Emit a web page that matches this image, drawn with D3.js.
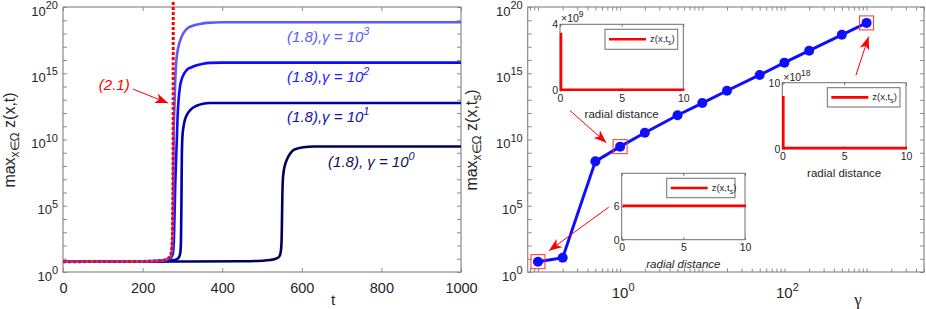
<!DOCTYPE html>
<html><head><meta charset="utf-8">
<script src="https://cdn.jsdelivr.net/npm/d3@7"></script>
<style>
body{margin:0;background:#fff}
svg{display:block}
text{font-family:"Liberation Sans",Arial,Helvetica,sans-serif;fill:#262626}
</style>
</head><body>
<svg id="c" width="926" height="309"></svg>
<script>
// ---------------- DATA ----------------
const tTicks = [0, 200, 400, 600, 800, 1000];
const yDecades = d3.range(0, 21);          // log10 tick positions (every decade)
const yLabelDecades = [0, 5, 10, 15, 20];

// Left panel curves: time t and log10(max z)
const t_g1000  = [0,150,220,250,262,268,272,274,276,277,278,280,282,285,290,296,302,315,328,345,361,400,1000];
const lz_g1000 = [0.78,0.79,0.82,0.88,0.96,1.08,1.3,1.7,3.5,7,10.5,12.5,14.5,16,17,17.6,18,18.45,18.6,18.72,18.8,18.85,18.85];

const t_g100  = [0,150,220,250,265,272,276,278,280,282,284,286,288,291,294,300,311,323,336,352,369,400,1000];
const lz_g100 = [0.78,0.79,0.81,0.86,0.95,1.1,1.4,2,4,6.5,8.3,10,11.8,13.2,14,14.7,15.25,15.45,15.6,15.72,15.78,15.8,15.8];

const t_g10  = [0,200,260,280,288,292,295,296.5,297.5,298.5,300,303,306.5,312,319,336,352,369,400,1000];
const lz_g10 = [0.78,0.79,0.83,0.9,1.0,1.15,1.5,2.5,5,8.5,10.2,11,11.5,11.9,12.2,12.55,12.7,12.75,12.75,12.75];

const t_g1  = [0,300,450,500,520,537,544,547,549,550,551,552.5,555,558,562,570,579,590,604,630,1000];
const lz_g1 = [0.78,0.79,0.81,0.85,0.9,1.03,1.2,1.5,2.2,3.5,5.5,7,7.7,8.1,8.45,8.9,9.2,9.33,9.42,9.47,9.47];

const t_21  = [0,200,240,255,263,268,272,274,275.5,276.5,277];
const lz_21 = [0.78,0.8,0.84,0.9,1.0,1.15,1.5,2.2,4,8,21];

// Right panel: gamma vs log10(max z at t_s)
const gammas   = [0.1,0.2,0.5,1,2,5,10,20,50,100,200,500,1000];
const lz_gamma = [0.78,1.08,8.35,9.46,10.51,11.83,12.75,13.68,14.87,15.8,16.7,17.9,18.8];
const highlighted = [0, 3, 12];   // indices boxed in red
const gammaLabelDecades = [0, 2];

// Inset profiles (radial distance, z)
const rA = [0, 0, 10], zA = [3.45, 0, 0];      // gamma = 1, units 1e9
const rB = [0, 0, 10], zB = [7.9, 0, 0];       // gamma = 1000, units 1e18
const rC = [0, 10],    zC = [6, 6];            // gamma = 0.1
const insetXTicks = [0, 5, 10];

// ---------------- DRAW ----------------
const svg = d3.select("#c");
const P = x => Math.pow(10, x);
const AX = "#8a8a8a";
const fmt = d3.format("d");

// Left panel
const L = {x0: 63, x1: 461, y0: 7, y1: 272};
const xL = d3.scaleLinear([0, 1000], [L.x0, L.x1]);
const yLog = d3.scaleLog([1, 1e20], [L.y1, L.y0]);

function frame(g, b, color, w) {
  g.append("rect").attr("x", b.x0).attr("y", b.y0)
    .attr("width", b.x1 - b.x0).attr("height", b.y1 - b.y0)
    .attr("fill", "none").attr("stroke", color).attr("stroke-width", w);
}
function styleAxis(g) {
  g.select(".domain").remove();
  g.selectAll(".tick line").attr("stroke", AX).attr("stroke-width", 1);
}

const gL = svg.append("g");
frame(gL, L, AX, 1.2);
gL.append("g").attr("transform", `translate(0,${L.y1})`)
  .call(d3.axisBottom(xL).tickValues(tTicks).tickFormat(fmt).tickSizeInner(-4).tickSizeOuter(0).tickPadding(11))
  .call(styleAxis)
  .call(g => g.selectAll("text").attr("font-size", 14.5).attr("fill", "#262626")
     .attr("font-family", '"Liberation Sans",Arial,sans-serif'));
gL.append("g").attr("transform", `translate(0,${L.y0})`)
  .call(d3.axisTop(xL).tickValues(tTicks).tickSizeInner(-4).tickSizeOuter(0).tickFormat(""))
  .call(styleAxis);
gL.append("g").attr("transform", `translate(${L.x0},0)`)
  .call(d3.axisLeft(yLog).tickValues(yDecades.map(P)).tickSizeInner(-4).tickSizeOuter(0).tickFormat(""))
  .call(styleAxis);
gL.append("g").attr("transform", `translate(${L.x1},0)`)
  .call(d3.axisRight(yLog).tickValues(yDecades.map(P)).tickSizeInner(-4).tickSizeOuter(0).tickFormat(""))
  .call(styleAxis);

function powLabel(g, x, y, exp, anchor, size, esize, rise) {
  const t = g.append("text").attr("x", x).attr("y", y).attr("text-anchor", anchor).attr("font-size", size);
  t.append("tspan").text("10");
  t.append("tspan").attr("dy", -rise).attr("font-size", esize).text(exp);
  return t;
}
yLabelDecades.forEach(d => powLabel(gL, L.x0 - 5, yLog(P(d)) + 8.5, d, "end", 13, 11, 6.5));

// axis labels
gL.append("text").attr("x", 333).attr("y", 305).attr("text-anchor", "middle").attr("font-size", 15).text("t");

function ylab(g, x, y, sub) {
  const t = g.append("text").attr("transform", `translate(${x},${y}) rotate(-90)`)
    .attr("text-anchor", "middle").attr("font-size", 16);
  t.append("tspan").text("max");
  t.append("tspan").attr("dy", 4).attr("font-size", 12).text("x∈Ω");
  t.append("tspan").attr("dy", -4).text(" z(x,t");
  if (sub) { t.append("tspan").attr("dy", 4).attr("font-size", 12).text("s"); t.append("tspan").attr("dy", -4).text(")"); }
  else t.append("tspan").text(")");
}
ylab(gL, 14.5, 140, false);

// curves
const lineL = d3.line().x(d => xL(d[0])).y(d => yLog(P(d[1]))).curve(d3.curveMonotoneX);
const series = [
  {t: t_g1,    lz: lz_g1,    color: "#00005e"},
  {t: t_g10,   lz: lz_g10,   color: "#0000a8"},
  {t: t_g100,  lz: lz_g100,  color: "#0a0aff"},
  {t: t_g1000, lz: lz_g1000, color: "#5a5aff"}
];
const clipId = "clipL";
svg.append("clipPath").attr("id", clipId).append("rect")
  .attr("x", L.x0).attr("y", L.y0).attr("width", L.x1 - L.x0).attr("height", L.y1 - L.y0);
series.forEach(s => {
  gL.append("path").datum(d3.zip(s.t, s.lz)).attr("d", lineL)
    .attr("fill", "none").attr("stroke", s.color).attr("stroke-width", 2.6)
    .attr("clip-path", `url(#${clipId})`);
});
gL.append("path").datum(d3.zip(t_21, lz_21)).attr("d", lineL)
  .attr("fill", "none").attr("stroke", "#ff0000").attr("stroke-width", 3)
  .attr("stroke-dasharray", "3,2");

// curve labels
function curveLabel(g, t, lz, pre, exp, color) {
  const tx = g.append("text").attr("x", xL(t)).attr("y", yLog(P(lz)))
    .attr("font-size", 15).attr("font-style", "italic").style("fill", color);
  tx.append("tspan").text(pre);
  tx.append("tspan").attr("dy", -7).attr("font-size", 11).text(exp);
}
curveLabel(gL, 563, 17.36, "(1.8),γ = 10", "3", "#5a5aff");
curveLabel(gL, 563, 14.34, "(1.8),γ = 10", "2", "#1a1aff");
curveLabel(gL, 563, 11.32, "(1.8),γ = 10", "1", "#1010b0");
curveLabel(gL, 666, 7.92,  "(1.8), γ = 10", "0", "#10105e");
gL.append("text").attr("x", xL(90)).attr("y", yLog(P(13.7))).attr("font-size", 15)
  .attr("font-style", "italic").style("fill", "#ff0000").text("(2.1)");

// arrow marker
const defs = svg.append("defs");
defs.append("marker").attr("id", "ah").attr("markerUnits", "userSpaceOnUse")
  .attr("markerWidth", 14).attr("markerHeight", 10).attr("refX", 13).attr("refY", 5)
  .attr("orient", "auto")
  .append("path").attr("d", "M0,0 L13,5 L0,10 L3.5,5 Z").attr("fill", "#ff0000");
function arrow(g, x1, y1, x2, y2) {
  g.append("line").attr("x1", x1).attr("y1", y1).attr("x2", x2).attr("y2", y2)
    .attr("stroke", "#ff0000").attr("stroke-width", 1).attr("marker-end", "url(#ah)");
}
arrow(gL, xL(176), yLog(P(13.8)), xL(264), yLog(P(12.75)));

// Right panel
const R = {x0: 527.7, x1: 924, y0: 7, y1: 272};
const xR = d3.scaleLog([0.075, 5000], [R.x0, R.x1]);
const yR = d3.scaleLog([1, 1e20], [R.y1, R.y0]);
const gR = svg.append("g");
frame(gR, R, AX, 1.2);
const gTicks = [];
[-2, -1, 0, 1, 2, 3].forEach(e => d3.range(1, 10).forEach(m => {
  const v = m * P(e); if (v >= 0.075 && v <= 5000) gTicks.push(v);
}));
gR.append("g").attr("transform", `translate(0,${R.y1})`)
  .call(d3.axisBottom(xR).tickValues(gTicks).tickSizeInner(-3.5).tickSizeOuter(0).tickFormat(""))
  .call(styleAxis);
gR.append("g").attr("transform", `translate(0,${R.y0})`)
  .call(d3.axisTop(xR).tickValues(gTicks).tickSizeInner(-3.5).tickSizeOuter(0).tickFormat(""))
  .call(styleAxis);
gR.append("g").attr("transform", `translate(${R.x0},0)`)
  .call(d3.axisLeft(yR).tickValues(yDecades.map(P)).tickSizeInner(-4).tickSizeOuter(0).tickFormat(""))
  .call(styleAxis);
gR.append("g").attr("transform", `translate(${R.x1},0)`)
  .call(d3.axisRight(yR).tickValues(yDecades.map(P)).tickSizeInner(-4).tickSizeOuter(0).tickFormat(""))
  .call(styleAxis);
yLabelDecades.forEach(d => powLabel(gR, R.x0 - 5, yR(P(d)) + 8.5, d, "end", 13, 11, 6.5));
gammaLabelDecades.forEach(d => powLabel(gR, xR(P(d)) + 3, 298, d, "middle", 15, 11, 7.5));
gR.append("text").attr("x", 858).attr("y", 305).attr("text-anchor", "middle")
  .attr("font-size", 17).style("font-family", '"Liberation Serif","DejaVu Serif",serif').text("γ");
ylab(gR, 477, 140, true);

const ptsR = d3.zip(gammas, lz_gamma);
const lineR = d3.line().x(d => xR(d[0])).y(d => yR(P(d[1])));
gR.append("path").datum(ptsR).attr("d", lineR).attr("fill", "none")
  .attr("stroke", "#0f0fff").attr("stroke-width", 3).attr("stroke-linejoin", "round");
gR.selectAll("circle.pt").data(ptsR).join("circle").attr("class", "pt")
  .attr("cx", d => xR(d[0])).attr("cy", d => yR(P(d[1]))).attr("r", 5).attr("fill", "#0f0fff");
gR.selectAll("rect.hl").data(highlighted.map(i => ptsR[i])).join("rect").attr("class", "hl")
  .attr("x", d => xR(d[0]) - 7).attr("y", d => yR(P(d[1])) - 7).attr("width", 14).attr("height", 14)
  .attr("fill", "none").attr("stroke", "#ff3030").attr("stroke-width", 1);

arrow(gR, xR(0.244), yR(P(12.2)), xR(0.68), yR(P(9.76)));
arrow(gR, xR(0.728), yR(P(4.9)), xR(0.136), yR(P(1.6)));
arrow(gR, xR(742), yR(P(14.85)), xR(1058), yR(P(17.76)));

// Insets
function inset(b, yMax, yTickLabels, r, z, xlabItalic, mult, leg) {
  const g = svg.append("g");
  g.append("rect").attr("x", b.x0).attr("y", b.y0).attr("width", b.x1 - b.x0).attr("height", b.y1 - b.y0)
    .attr("fill", "#fff").attr("stroke", "#6e6e6e").attr("stroke-width", 1);
  const x = d3.scaleLinear([0, 10], [b.x0, b.x1]);
  const y = d3.scaleLinear([0, yMax], [b.y1, b.y0]);
  g.append("g").attr("transform", `translate(0,${b.y1})`)
    .call(d3.axisBottom(x).tickValues(insetXTicks).tickFormat(fmt).tickSizeInner(-2.5).tickSizeOuter(0).tickPadding(4))
    .call(gg => { gg.select(".domain").remove(); gg.selectAll("line").attr("stroke", "#6e6e6e");
      gg.selectAll("text").attr("font-size", 10.5).attr("fill", "#262626"); });
  g.append("g").attr("transform", `translate(0,${b.y0})`)
    .call(d3.axisTop(x).tickValues(insetXTicks).tickSizeInner(-2.5).tickSizeOuter(0).tickFormat(""))
    .call(gg => { gg.select(".domain").remove(); gg.selectAll("line").attr("stroke", "#6e6e6e"); });
  g.append("g").attr("transform", `translate(${b.x0},0)`)
    .call(d3.axisLeft(y).tickValues(yTickLabels).tickFormat(fmt).tickSizeInner(-2.5).tickSizeOuter(0).tickPadding(2))
    .call(gg => { gg.select(".domain").remove(); gg.selectAll("line").attr("stroke", "#6e6e6e");
      gg.selectAll("text").attr("font-size", 10.5).attr("fill", "#262626"); });
  g.append("text").attr("x", (b.x0 + b.x1) / 2).attr("y", b.y1 + 28).attr("text-anchor", "middle")
    .attr("font-size", 11.5).attr("font-style", xlabItalic ? "italic" : "normal").text("radial distance");
  if (mult) {
    const t = g.append("text").attr("x", b.x0 + 1).attr("y", b.y0 - 2).attr("font-size", 10.5);
    t.append("tspan").text("×10");
    t.append("tspan").attr("dy", -5).attr("font-size", 8.5).text(mult);
  }
  g.append("path").datum(d3.zip(r, z)).attr("d", d3.line().x(d => x(d[0]) + 1).y(d => y(d[1]) - 0.6))
    .attr("fill", "none").attr("stroke", "#ff0000").attr("stroke-width", 2.6);
  // legend
  g.append("rect").attr("x", leg.x0).attr("y", leg.y0).attr("width", leg.x1 - leg.x0).attr("height", leg.y1 - leg.y0)
    .attr("fill", "#fff").attr("stroke", "#6e6e6e").attr("stroke-width", 1);
  const ly = (leg.y0 + leg.y1) / 2;
  g.append("line").attr("x1", leg.x0 + 4).attr("x2", leg.x0 + 41).attr("y1", ly).attr("y2", ly)
    .attr("stroke", "#ff0000").attr("stroke-width", 2.6);
  const lt = g.append("text").attr("x", leg.x0 + 45).attr("y", ly + 2.5).attr("font-size", 9.5);
  lt.append("tspan").text("z(x,t");
  lt.append("tspan").attr("dy", 3).attr("font-size", 7).text("s");
  lt.append("tspan").attr("dy", -3).text(")");
}
inset({x0: 560, x1: 683.3, y0: 24.3, y1: 90.3}, 4, [0, 4], rA, zA, false, "9",
      {x0: 605, x1: 677.7, y0: 29.3, y1: 49.3});
inset({x0: 782.3, x1: 906, y0: 82.7, y1: 148.7}, 10, [0, 10], rB, zB, false, "18",
      {x0: 827.3, x1: 900, y0: 87.7, y1: 107});
inset({x0: 621.7, x1: 745, y0: 173.3, y1: 239.7}, 12, [0, 6], rC, zC, true, null,
      {x0: 666.7, x1: 735, y0: 178.3, y1: 197.7});
</script>
</body></html>
